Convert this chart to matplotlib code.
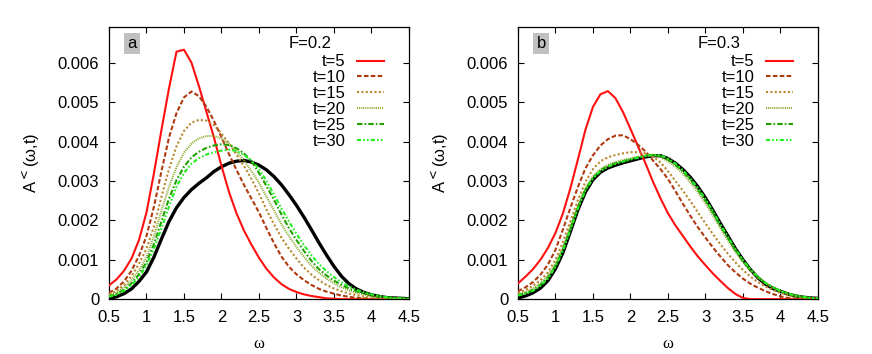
import numpy as np
import matplotlib
matplotlib.use('Agg')
import matplotlib.pyplot as plt

plt.rcParams['font.family'] = ['Liberation Sans', 'DejaVu Sans']

# omega grid shared by every curve: 0.5, 0.6, ..., 4.5
omega = np.linspace(0.5, 4.5, 41)

# panel a, F=0.2  (A< values in units of 1e-3)
a_t5 = [0.35, 0.5, 0.72, 1.03, 1.5, 2.2, 3.2, 4.3, 5.35, 6.28, 6.33, 6.0, 5.4, 4.75, 4.1,
        3.38, 2.72, 2.18, 1.74, 1.38, 1.05, 0.77, 0.55, 0.38, 0.26, 0.18, 0.12, 0.08, 0.05,
        0.02, 0.01, 0, 0, 0, 0, 0, 0, 0, 0, 0, 0]
a_t10 = [0.16, 0.27, 0.45, 0.72, 1.1, 1.6, 2.35, 3.25, 4.1, 4.72, 5.12, 5.27, 5.15, 4.88,
         4.52, 4.11, 3.68, 3.28, 2.9, 2.55, 2.2, 1.8, 1.42, 1.08, 0.82, 0.63, 0.48, 0.36,
         0.26, 0.19, 0.14, 0.09, 0.06, 0.03, 0.02, 0.01, 0, 0, 0, 0, 0]
a_t15 = [0.12, 0.21, 0.36, 0.58, 0.9, 1.28, 1.85, 2.6, 3.3, 3.88, 4.27, 4.48, 4.55, 4.53,
         4.42, 4.2, 3.95, 3.67, 3.38, 3.05, 2.68, 2.27, 1.9, 1.56, 1.28, 1.03, 0.8, 0.62,
         0.48, 0.36, 0.27, 0.2, 0.14, 0.1, 0.06, 0.04, 0.02, 0.01, 0.01, 0, 0]
a_t20 = [0.1, 0.17, 0.3, 0.48, 0.73, 1.07, 1.6, 2.25, 2.85, 3.35, 3.72, 3.95, 4.08, 4.14,
         4.14, 4.07, 3.95, 3.75, 3.52, 3.25, 2.95, 2.6, 2.25, 1.9, 1.6, 1.32, 1.07, 0.85,
         0.67, 0.52, 0.4, 0.3, 0.22, 0.16, 0.11, 0.07, 0.05, 0.03, 0.02, 0.01, 0]
a_t25 = [0.07, 0.13, 0.24, 0.4, 0.63, 0.94, 1.4, 1.98, 2.55, 3.02, 3.36, 3.6, 3.74, 3.84,
         3.9, 3.93, 3.91, 3.83, 3.7, 3.5, 3.2, 2.87, 2.52, 2.15, 1.8, 1.5, 1.22, 0.97,
         0.76, 0.6, 0.47, 0.36, 0.27, 0.2, 0.15, 0.11, 0.07, 0.05, 0.03, 0.02, 0.01]
a_t30 = [0.06, 0.11, 0.21, 0.36, 0.56, 0.86, 1.28, 1.8, 2.35, 2.85, 3.2, 3.44, 3.58, 3.67,
         3.73, 3.77, 3.79, 3.76, 3.66, 3.52, 3.3, 3.0, 2.65, 2.3, 1.97, 1.66, 1.37, 1.11,
         0.89, 0.71, 0.56, 0.43, 0.32, 0.24, 0.17, 0.12, 0.08, 0.05, 0.03, 0.02, 0.01]
a_eq = [0.02, 0.06, 0.14, 0.26, 0.45, 0.69, 1.07, 1.53, 1.97, 2.32, 2.58, 2.78, 2.94, 3.08,
        3.24, 3.36, 3.45, 3.5, 3.52, 3.48, 3.4, 3.28, 3.11, 2.9, 2.65, 2.38, 2.08, 1.76,
        1.43, 1.12, 0.83, 0.58, 0.39, 0.26, 0.17, 0.11, 0.07, 0.04, 0.03, 0.02, 0.01]

# panel b, F=0.3
b_t5 = [0.4, 0.57, 0.76, 1.0, 1.3, 1.68, 2.18, 2.82, 3.55, 4.3, 4.88, 5.2, 5.28, 5.1, 4.75,
        4.32, 3.88, 3.45, 2.98, 2.56, 2.18, 1.87, 1.6, 1.33, 1.08, 0.86, 0.65, 0.46, 0.28,
        0.13, 0.03, 0, 0, 0, 0, 0, 0, 0, 0, 0, 0]
b_t10 = [0.2, 0.3, 0.43, 0.62, 0.88, 1.25, 1.77, 2.32, 2.85, 3.32, 3.65, 3.9, 4.06, 4.15,
         4.16, 4.06, 3.92, 3.75, 3.52, 3.3, 3.05, 2.74, 2.42, 2.11, 1.82, 1.56, 1.31, 1.08,
         0.86, 0.68, 0.52, 0.39, 0.29, 0.2, 0.13, 0.07, 0.03, 0.01, 0, 0, 0]
b_t15 = [0.15, 0.23, 0.34, 0.48, 0.68, 1.0, 1.45, 1.98, 2.52, 2.98, 3.3, 3.5, 3.6, 3.66,
         3.7, 3.73, 3.73, 3.7, 3.62, 3.47, 3.25, 3.0, 2.75, 2.48, 2.2, 1.92, 1.65, 1.39,
         1.15, 0.93, 0.74, 0.57, 0.43, 0.32, 0.23, 0.16, 0.1, 0.06, 0.03, 0.02, 0.01]
b_t20 = [0.12, 0.18, 0.27, 0.4, 0.6, 0.9, 1.32, 1.85, 2.38, 2.82, 3.12, 3.3, 3.41, 3.48,
         3.53, 3.57, 3.61, 3.64, 3.65, 3.6, 3.5, 3.36, 3.18, 2.96, 2.71, 2.43, 2.12, 1.8,
         1.49, 1.2, 0.94, 0.72, 0.54, 0.4, 0.29, 0.2, 0.13, 0.08, 0.05, 0.03, 0.02]
b_t25 = [0.1, 0.15, 0.23, 0.36, 0.55, 0.85, 1.26, 1.79, 2.33, 2.78, 3.08, 3.27, 3.38, 3.45,
         3.5, 3.55, 3.6, 3.64, 3.66, 3.63, 3.54, 3.41, 3.24, 3.03, 2.78, 2.5, 2.19, 1.86,
         1.55, 1.25, 0.98, 0.75, 0.56, 0.41, 0.3, 0.21, 0.14, 0.09, 0.06, 0.03, 0.02]
b_t30 = [0.09, 0.14, 0.21, 0.34, 0.52, 0.82, 1.23, 1.76, 2.3, 2.76, 3.06, 3.25, 3.36, 3.43,
         3.49, 3.54, 3.59, 3.63, 3.66, 3.65, 3.57, 3.44, 3.27, 3.06, 2.82, 2.54, 2.23, 1.9,
         1.58, 1.27, 0.99, 0.76, 0.56, 0.41, 0.3, 0.21, 0.14, 0.09, 0.06, 0.03, 0.02]
b_eq = [0.03, 0.08, 0.16, 0.28, 0.47, 0.77, 1.18, 1.72, 2.27, 2.72, 3.03, 3.22, 3.33, 3.4,
        3.46, 3.51, 3.56, 3.61, 3.64, 3.64, 3.57, 3.45, 3.29, 3.09, 2.85, 2.57, 2.25, 1.92,
        1.6, 1.28, 1.0, 0.75, 0.54, 0.38, 0.27, 0.2, 0.13, 0.08, 0.05, 0.03, 0.02]

labels = ['t=5', 't=10', 't=15', 't=20', 't=25', 't=30']
colors = ['#ff1010', '#b03a10', '#b8862e', '#8aaa30', '#22a000', '#22ee22']
styles = ['-', (0, (2.2, 1.1)), (0, (1, 1.1)), (0, (0.5, 0.5)),
          (0, (2.6, 1, 0.8, 1)), (0, (2, 1, 0.8, 1, 0.8, 1))]

panels = [
    ('a', 'F=0.2', [a_t5, a_t10, a_t15, a_t20, a_t25, a_t30], a_eq, 0.125),
    ('b', 'F=0.3', [b_t5, b_t10, b_t15, b_t20, b_t25, b_t30], b_eq, 0.594),
]

fs = 12

fig = plt.figure(figsize=(8.72, 3.54), dpi=100)

for tag, ftxt, series, eq, left in panels:
    ax = fig.add_axes([left, 0.155, 0.344, 0.768])
    ax.plot(omega, np.array(eq) * 1e-3, color='black', lw=2.4, zorder=2)
    for vals, lab, c, ls in zip(series, labels, colors, styles):
        ax.plot(omega, np.array(vals) * 1e-3, color=c, ls=ls, lw=1.5, label=lab, zorder=3)

    ax.set_xlim(0.5, 4.5)
    ax.set_ylim(0, 0.0069)
    ax.set_xticks(np.arange(0.5, 4.51, 0.5))
    ax.set_xticklabels(['0.5', '1', '1.5', '2', '2.5', '3', '3.5', '4', '4.5'])
    ax.set_yticks(np.arange(0, 0.00601, 0.001))
    ax.set_yticklabels(['0', '0.001', '0.002', '0.003', '0.004', '0.005', '0.006'])
    ax.tick_params(direction='in', top=True, right=True, length=4, width=0.8,
                   labelsize=fs)
    ax.tick_params(axis='y', pad=7)
    ax.tick_params(axis='x', pad=8)
    for s in ax.spines.values():
        s.set_linewidth(0.9)

    ax.set_xlabel('ω', family='Liberation Serif', fontsize=12, labelpad=8)
    ax.set_ylabel(r'A$^{<}$(ω,t)', fontsize=fs, labelpad=11)

    ax.text(0.077, 0.94, tag, transform=ax.transAxes, fontsize=fs, va='center', ha='center',
            bbox=dict(boxstyle='square,pad=0.2', fc='#c0c0c0', ec='none'))
    ax.text(0.60, 0.94, ftxt, transform=ax.transAxes, fontsize=fs, va='center', ha='left')

    leg = ax.legend(loc='upper right', bbox_to_anchor=(0.917, 0.9), frameon=False,
                    markerfirst=False, handlelength=1.6, handletextpad=0.7,
                    labelspacing=0.05, borderpad=0, borderaxespad=0, fontsize=fs)
    for t in leg.get_texts():
        t.set_ha('right')

fig.savefig('out.png', dpi=100)
